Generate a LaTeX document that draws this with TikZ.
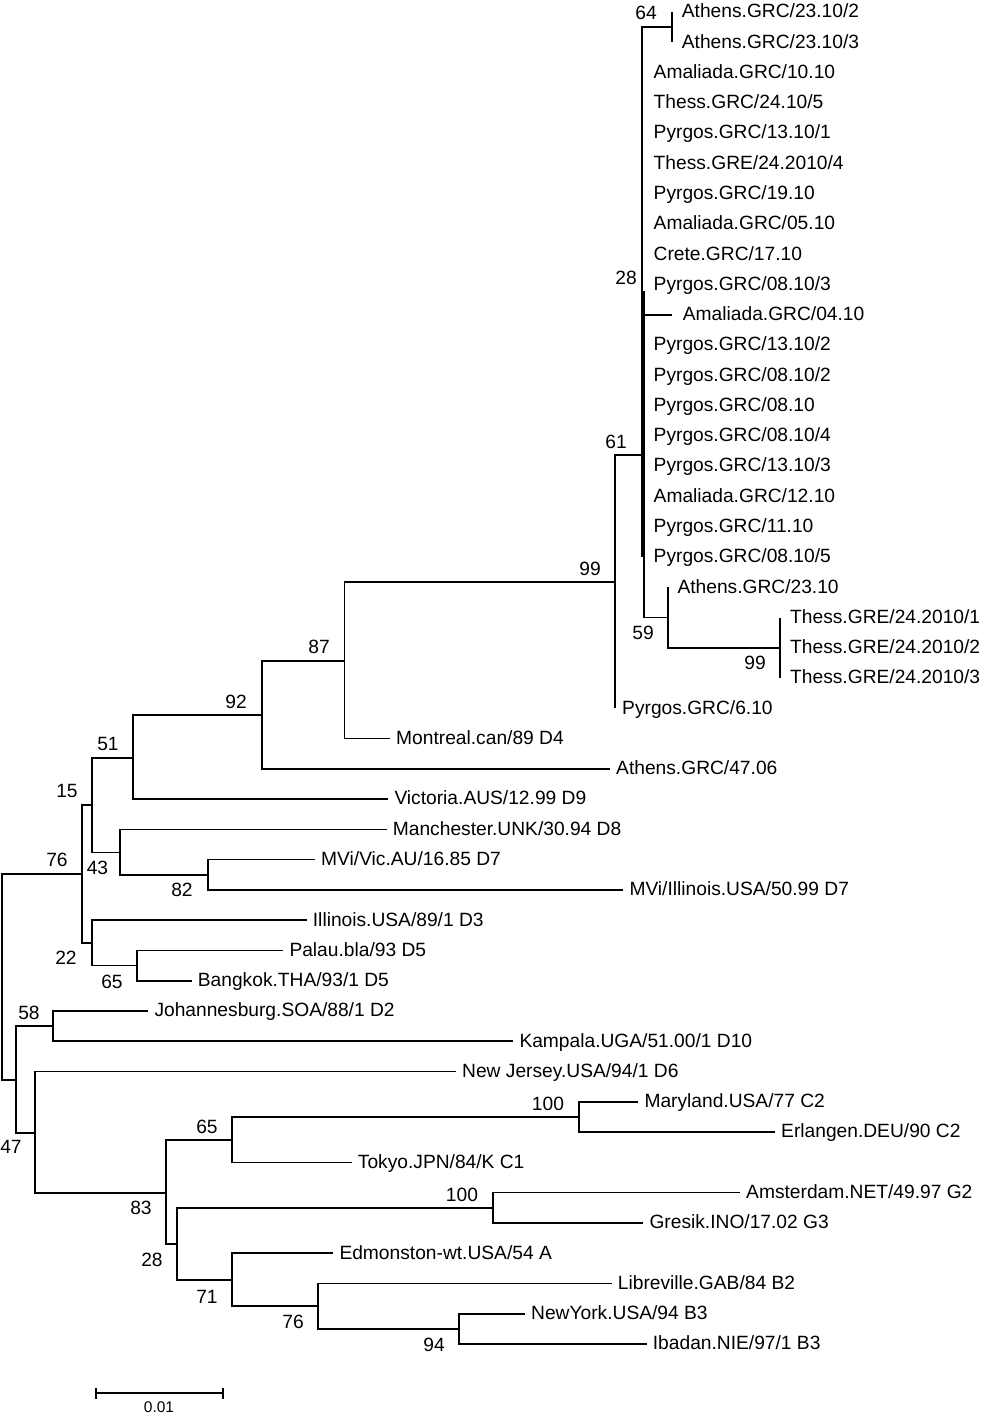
\documentclass[tikz,border=0pt]{standalone}
\usepackage{fontspec}
\setmainfont{Liberation Sans}
\newcommand{\lblfont}{\fontsize{19.2}{21}\selectfont}
\newcommand{\sclfont}{\fontsize{15.5}{17}\selectfont}
\tikzset{
  leaf/.style={anchor=west, inner ysep=0pt, inner xsep=#1, text height=13.7pt, text depth=2pt, font=\lblfont},
  leaf/.default=6pt,
  bs/.style={anchor=center, inner sep=0pt, font=\lblfont},
  br/.style={line width=1.7pt, line join=miter},
}
\begin{document}
\begin{tikzpicture}[x=1pt,y=-1pt]
\useasboundingbox (0,0) rectangle (983,1416);
% ---------- leaves ----------
\node[leaf=10pt] (L0) at (671.7,12.0) {Athens.GRC/23.10/2};
\node[leaf=10pt] (L1) at (671.7,42.3) {Athens.GRC/23.10/3};
\node[leaf=11.5pt] (L2) at (642,72.5) {Amaliada.GRC/10.10};
\node[leaf=11.5pt] (L3) at (642,102.8) {Thess.GRC/24.10/5};
\node[leaf=11.5pt] (L4) at (642,133.1) {Pyrgos.GRC/13.10/1};
\node[leaf=11.5pt] (L5) at (642,163.4) {Thess.GRE/24.2010/4};
\node[leaf=11.5pt] (L6) at (642,193.6) {Pyrgos.GRC/19.10};
\node[leaf=11.5pt] (L7) at (642,223.9) {Amaliada.GRC/05.10};
\node[leaf=11.5pt] (L8) at (642,254.2) {Crete.GRC/17.10};
\node[leaf=11.5pt] (L9) at (642,284.5) {Pyrgos.GRC/08.10/3};
\node[leaf=11pt] (L10) at (671.7,314.7) {Amaliada.GRC/04.10};
\node[leaf=11.5pt] (L11) at (642,345.0) {Pyrgos.GRC/13.10/2};
\node[leaf=11.5pt] (L12) at (642,375.3) {Pyrgos.GRC/08.10/2};
\node[leaf=11.5pt] (L13) at (642,405.5) {Pyrgos.GRC/08.10};
\node[leaf=11.5pt] (L14) at (642,435.8) {Pyrgos.GRC/08.10/4};
\node[leaf=11.5pt] (L15) at (642,466.1) {Pyrgos.GRC/13.10/3};
\node[leaf=11.5pt] (L16) at (642,496.4) {Amaliada.GRC/12.10};
\node[leaf=11.5pt] (L17) at (642,526.6) {Pyrgos.GRC/11.10};
\node[leaf=11.5pt] (L18) at (642,556.9) {Pyrgos.GRC/08.10/5};
\node[leaf=9pt] (L19) at (668.3,587.2) {Athens.GRC/23.10};
\node[leaf=10pt] (L20) at (780,617.5) {Thess.GRE/24.2010/1};
\node[leaf=10pt] (L21) at (780,647.7) {Thess.GRE/24.2010/2};
\node[leaf=10pt] (L22) at (780,678.0) {Thess.GRE/24.2010/3};
\node[leaf=7pt] (L23) at (615,708.3) {Pyrgos.GRC/6.10};
\node[leaf] (L24) at (390,738.5) {Montreal.can/89 D4};
\node[leaf] (L25) at (610,768.8) {Athens.GRC/47.06};
\node[leaf] (L26) at (388.3,799.1) {Victoria.AUS/12.99 D9};
\node[leaf] (L27) at (386.7,829.4) {Manchester.UNK/30.94 D8};
\node[leaf] (L28) at (315,859.6) {MVi/Vic.AU/16.85 D7};
\node[leaf] (L29) at (623.3,889.9) {MVi/Illinois.USA/50.99 D7};
\node[leaf] (L30) at (306.7,920.2) {Illinois.USA/89/1 D3};
\node[leaf] (L31) at (283.3,950.5) {Palau.bla/93 D5};
\node[leaf] (L32) at (191.7,980.7) {Bangkok.THA/93/1 D5};
\node[leaf] (L33) at (148.3,1011.0) {Johannesburg.SOA/88/1 D2};
\node[leaf] (L34) at (513.3,1041.3) {Kampala.UGA/51.00/1 D10};
\node[leaf] (L35) at (456,1071.5) {New Jersey.USA/94/1 D6};
\node[leaf] (L36) at (638.3,1101.8) {Maryland.USA/77 C2};
\node[leaf] (L37) at (775,1132.1) {Erlangen.DEU/90 C2};
\node[leaf] (L38) at (351.7,1162.4) {Tokyo.JPN/84/K C1};
\node[leaf] (L39) at (740,1192.6) {Amsterdam.NET/49.97 G2};
\node[leaf] (L40) at (643.3,1222.9) {Gresik.INO/17.02 G3};
\node[leaf] (L41) at (333.3,1253.2) {Edmonston-wt.USA/54 A};
\node[leaf] (L42) at (611.7,1283.5) {Libreville.GAB/84 B2};
\node[leaf] (L43) at (525,1313.7) {NewYork.USA/94 B3};
\node[leaf] (L44) at (646.7,1344.0) {Ibadan.NIE/97/1 B3};
% ---------- internal nodes ----------
\coordinate (n64) at (671.7,27.1);
\coordinate (n28) at (642,291.8);
\coordinate (n61) at (643.8,455);
\coordinate (n59) at (668.3,617.5);
\coordinate (n99b) at (780,647.7);
\coordinate (nA) at (615,582.3);
\coordinate (n87) at (344.5,660.7);
\coordinate (n92) at (261.7,715);
\coordinate (n51) at (133.3,758.3);
\coordinate (n15) at (92.3,805);
\coordinate (n43) at (120,852.5);
\coordinate (n82) at (208.3,874.8);
\coordinate (n76) at (82.3,874);
\coordinate (n22) at (91.7,943);
\coordinate (n65) at (137.3,965.6);
\coordinate (root) at (1.9,977);
\coordinate (n47) at (15.7,1079.7);
\coordinate (n58) at (53.3,1026.2);
\coordinate (nNJ) at (35,1132.8);
\coordinate (n83) at (165.7,1192.9);
\coordinate (n65b) at (232.3,1139.7);
\coordinate (n100a) at (579.3,1117);
\coordinate (n28b) at (176.7,1244.2);
\coordinate (n100b) at (493.3,1207.8);
\coordinate (n71) at (232.3,1280.2);
\coordinate (n76b) at (318.3,1306.2);
\coordinate (n94) at (459.3,1328.9);
% ---------- branches ----------
\draw[br] (n64) |- (L0.west) (n64) |- (L1.west);
\draw[br] (n28) |- (n64) (n28) |- (L10.west);
\foreach \i in {2,...,9,11,12,...,18} {\draw[br] (n28) |- (L\i.west);}
\draw[br] (n61) |- (n28) (n61) |- (n59);
\draw[br] (n59) |- (L19.west) (n59) |- (n99b);
\draw[br] (n99b) |- (L20.west) (n99b) |- (L22.west);
\draw[br] (nA) |- (n61) (nA) |- (L23.west);
\draw[br] (n87) |- (nA) (n87) |- (L24.west);
\draw[br] (n92) |- (n87) (n92) |- (L25.west);
\draw[br] (n51) |- (n92) (n51) |- (L26.west);
\draw[br] (n15) |- (n51) (n15) |- (n43);
\draw[br] (n43) |- (L27.west) (n43) |- (n82);
\draw[br] (n82) |- (L28.west) (n82) |- (L29.west);
\draw[br] (n76) |- (n15) (n76) |- (n22);
\draw[br] (n22) |- (L30.west) (n22) |- (n65);
\draw[br] (n65) |- (L31.west) (n65) |- (L32.west);
\draw[br] (root) |- (n76) (root) |- (n47);
\draw[br] (n47) |- (n58) (n47) |- (nNJ);
\draw[br] (n58) |- (L33.west) (n58) |- (L34.west);
\draw[br] (nNJ) |- (L35.west) (nNJ) |- (n83);
\draw[br] (n83) |- (n65b) (n83) |- (n28b);
\draw[br] (n65b) |- (n100a) (n65b) |- (L38.west);
\draw[br] (n100a) |- (L36.west) (n100a) |- (L37.west);
\draw[br] (n28b) |- (n100b) (n28b) |- (n71);
\draw[br] (n100b) |- (L39.west) (n100b) |- (L40.west);
\draw[br] (n71) |- (L41.west) (n71) |- (n76b);
\draw[br] (n76b) |- (L42.west) (n76b) |- (n94);
\draw[br] (n94) |- (L43.west) (n94) |- (L44.west);
% ---------- bootstrap values ----------
\node[bs] (b64) at (646,13) {64};
\node[bs] (b28) at (626,278) {28};
\node[bs] (b61) at (616,442) {61};
\node[bs] (b99) at (590,569) {99};
\node[bs] (b59) at (643,633) {59};
\node[bs] (b99b) at (755,663) {99};
\node[bs] (b87) at (319,647) {87};
\node[bs] (b92) at (236,702) {92};
\node[bs] (b51) at (108,744) {51};
\node[bs] (b15) at (67,791) {15};
\node[bs] (b76) at (57,860) {76};
\node[bs] (b43) at (97.5,868) {43};
\node[bs] (b82) at (182,890) {82};
\node[bs] (b22) at (66,958) {22};
\node[bs] (b65) at (112,982) {65};
\node[bs] (b58) at (29,1013) {58};
\node[bs] (b47) at (11,1147) {47};
\node[bs] (b65b) at (207,1127) {65};
\node[bs] (b100a) at (548,1104) {100};
\node[bs] (b83) at (141,1208) {83};
\node[bs] (b28b) at (152,1260) {28};
\node[bs] (b100b) at (462,1195) {100};
\node[bs] (b71) at (207,1297) {71};
\node[bs] (b76b) at (293,1322) {76};
\node[bs] (b94) at (434,1345) {94};
% ---------- scale bar ----------
\coordinate (sbl) at (95.7,1393.3);
\coordinate (sbr) at (223.3,1393.3);
\draw[br] (sbl) -- (sbr);
\draw[br] ([yshift=5.5pt]sbl) -- ([yshift=-5.5pt]sbl);
\draw[br] ([yshift=5.5pt]sbr) -- ([yshift=-5.5pt]sbr);
\node[anchor=center, inner sep=0pt, font=\sclfont] (sblab) at (159,1407) {0.01};
\end{tikzpicture}
\end{document}
